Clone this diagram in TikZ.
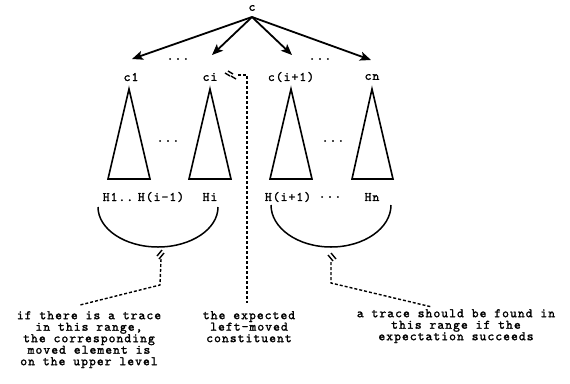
\documentclass[tikz,border=0pt]{standalone}
\usepackage{fontspec}
\setmonofont{lmmono10-regular.otf}[LetterSpace=8,FakeBold=1.6]
\usetikzlibrary{arrows.meta,calc}
\begin{document}
\begin{tikzpicture}[x=1pt,y=-1pt,
  lbl/.style={font=\ttfamily\fontsize{13}{11.5}\selectfont, inner sep=0pt},
  note/.style={font=\ttfamily\fontsize{13}{11.5}\selectfont, inner sep=0pt, align=center, anchor=north},
  arr/.style={line width=1.8pt, -{Stealth[length=11pt,width=9pt,inset=2.5pt]}},
  tri/.style={line width=1.6pt, line join=miter},
  arcline/.style={line width=1.5pt},
  dsh/.style={line width=1.4pt, dash pattern=on 3pt off 2pt},
  brk/.style={line width=1.4pt}]
\useasboundingbox (0,0) rectangle (570,383);
% root and arrows
\node[lbl] (c) at (252,8) {c};
\coordinate (a1) at (132,59);
\coordinate (a2) at (212,55);
\coordinate (a3) at (292,55);
\coordinate (a4) at (371,60);
\coordinate (r) at (252,17);
\draw[arr] (r) -- (a1);
\draw[arr] (r) -- (a2);
\draw[arr] (r) -- (a3);
\draw[arr] (r) -- (a4);
\node[lbl] (d1) at (178,59) {...};
\node[lbl] (d2) at (320,59) {...};
% child labels
\node[lbl] (c1) at (131,77) {c1};
\node[lbl] (ci) at (210,77) {ci};
\node[lbl] (cip) at (291,77) {c(i+1)};
\node[lbl] (cn) at (372,77) {cn};
% triangles
\draw[tri] (129,89) -- (108,179) -- (150,179) -- cycle;
\draw[tri] (210,89) -- (189,179) -- (231,179) -- cycle;
\draw[tri] (291,89) -- (270,179) -- (312,179) -- cycle;
\draw[tri] (372,89) -- (352,179) -- (393,179) -- cycle;
\node[lbl] (d3) at (168,141) {...};
\node[lbl] (d4) at (333,141) {...};
% H labels
\node[lbl] (h1) at (118,197) {H1..};
\node[lbl] (hi1) at (161,197) {H(i-1)};
\node[lbl] (hi) at (210,197) {Hi};
\node[lbl] (hip) at (288,197) {H(i+1)};
\node[lbl] (d5) at (330,197) {...};
\node[lbl] (hn) at (372,197) {Hn};
% arcs
\draw[arcline] (98,207) arc[start angle=180, end angle=0, x radius=60, y radius=40];
\draw[arcline] (271,205) arc[start angle=180, end angle=0, x radius=60, y radius=42];
\coordinate (bL) at (158,247);
\coordinate (bR) at (331,247);
% notes
\node[note] (tL) at (89,311) {if there is a trace\\in this range,\\the corresponding\\moved element is\\on the upper level};
\node[note] (tM) at (249,311) {the expected\\left-moved\\constituent};
\node[note] (tR) at (456,309) {a trace should be found in\\this range if the\\expectation succeeds};
% left connector
\coordinate (kL) at (160,285);
\coordinate (eL) at (80,305);
\draw[brk] (157,256) -- (162,250) (159,259) -- (164,253);
\draw[dsh] (161,259) -- (kL) -- (eL);
% middle connector
\coordinate (sM) at (238,75);
\coordinate (kM) at (247,75);
\coordinate (eM) at (247,303);
\draw[brk] (225,73) -- (230,76) (228,71) -- (233,74) (231,76) -- (236,79);
\draw[dsh] (sM) -- (kM) -- (eM);
% right connector
\coordinate (kR) at (331,283);
\coordinate (eR) at (432,307);
\draw[brk] (328,255) -- (333,261) (331,253) -- (336,259);
\draw[dsh] (331,262) -- (kR) -- (eR);
\end{tikzpicture}
\end{document}
